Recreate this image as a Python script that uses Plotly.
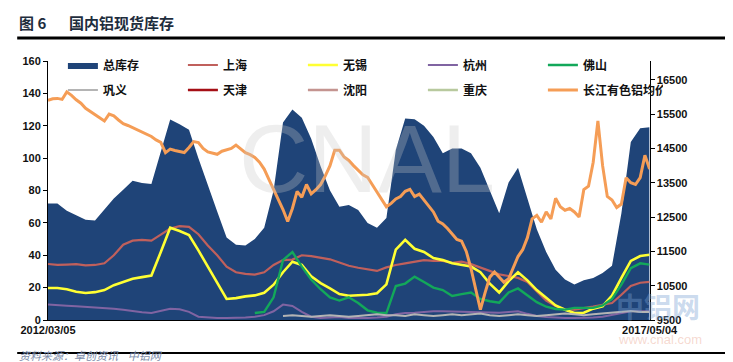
import pandas as pd
import plotly.graph_objects as go
from plotly.subplots import make_subplots

# ---------------- data ----------------
start_date = "2012-03-05"
end_date = "2017-05-04"
n_main = 65
n_price = 129

total_stock = [72, 72, 67.5, 64.5, 62, 61.5, 68, 75, 80.5, 86,
               84.6, 84, 104, 123.8, 121, 117.6, 100, 83, 67, 51,
               46.5, 46, 50, 57, 80, 122, 130, 125, 112, 95,
               80, 70, 71, 68, 60, 57, 63, 105, 124.5, 124,
               120, 113, 103, 106, 106, 103, 94, 80, 66, 85,
               94, 75, 56, 42, 31, 25, 22, 24.5, 26, 29,
               33.5, 66, 110, 118.5, 119]

shanghai = [34.6, 34, 34.2, 34.5, 33.8, 34, 35, 40, 46.5, 49,
            49.5, 49, 52.7, 56.5, 58, 57.5, 53, 46, 40, 33,
            29.5, 28.5, 28, 29.5, 34, 37, 37.3, 40, 39.5, 38.5,
            37.5, 35.5, 33.5, 32.3, 31.3, 30.3, 32.5, 34, 35, 36,
            37, 36.5, 36.5, 35.3, 36, 34.5, 32.3, 30.2, 28.2, 27.2,
            26, 23.5, 18, 12, 8.7, 6.5, 6.4, 7.2, 8.3, 9.4,
            10.5, 15.6, 21, 23, 23.5]

wuxi = [19.8, 19.8, 19, 17.5, 16.7, 17.2, 18.5, 21.5, 23.5, 25.5,
        26.5, 27.5, 42, 57, 55, 52.5, 43, 33, 23, 13,
        13.5, 14.6, 15.2, 16.8, 21.8, 29.5, 36, 34, 27, 22.8,
        19.5, 16, 15, 15.4, 15.6, 16.5, 22, 43.5, 49.5, 44,
        42, 38.3, 37, 35, 34, 33, 29.5, 22.5, 17, 24,
        29.5, 24.5, 18.5, 13.5, 9, 6.3, 4.3, 4.5, 7, 8.5,
        15, 26, 36.5, 39.5, 40.3]

hangzhou = [9.5, 9, 8.8, 8.5, 8.2, 8, 7.6, 7, 6.4, 5.5,
            4.8, 4.3, 5.5, 7, 6.6, 5, 2, 1.5, 1.3, 1.2,
            1.3, 1.5, 2, 3, 5.4, 9.5, 8.7, 5, 2, 1.3,
            1.5, 1.8, 1.3, 1.2, 1.2, 1.5, 2, 3.5, 4.3, 4.5,
            5, 5.4, 5.4, 5.2, 5.4, 5.2, 4.8, 4.5, 4.5, 5,
            5.4, 3.8, 2.5, 1.8, 1.3, 1.2, 1.2, 1.2, 1.5, 2,
            3, 4, 5.4, 5.4, 5.4]

foshan = [None] * 22 + [4.3, 5, 14, 37, 42, 33, 25, 19,
                        14, 12, 14, 10.5, 6, 4.5, 4.3, 21, 22.5, 26.8,
                        23.5, 20, 18.5, 14.8, 16, 17, 13, 11.6, 10.7, 17,
                        19.5, 15.5, 11, 8.2, 6.8, 6.4, 7.5, 7.5, 7.5, 9,
                        13, 21.8, 32, 35, 34.2]

gongyi = [None] * 25 + [2.5, 3, 2.5, 2, 2.5,
                        3, 2.5, 2, 2.5, 3, 3.5, 3, 3, 2.5, 3.5,
                        3, 2.5, 3, 3.5, 3, 3.5, 4, 3, 2.5, 3,
                        3.5, 3, 2.5, 3, 3.5, 4, 3.5, 3, 3.5, 4,
                        4.5, 5, 5.5, 5, 5]

# not readable in the picture (hidden under other series)
tianjin = [None] * n_main
shenyang = [None] * n_main
chongqing = [None] * n_main

price = [15900, 15950, 15960, 15930, 16150, 16050, 15920, 15820, 15670, 15580,
         15480, 15380, 15300, 15500, 15450, 15330, 15220, 15170, 15110, 15050,
         14970, 14920, 14850, 14750, 14680, 14380, 14480, 14440, 14420, 14380,
         14530, 14700, 14670, 14500, 14400, 14370, 14330, 14420, 14450, 14500,
         14600, 14480, 14380, 14320, 14240, 14100, 13900, 13600, 13300, 13050,
         12720, 12370, 12750, 13250, 13080, 13450, 13180, 13300, 13450, 13700,
         14000, 14450, 14450, 14250, 14150, 14000, 13850, 13730, 13660, 13450,
         13250, 13020, 12800, 12900, 13030, 13100, 13250, 13310, 13100, 13170,
         13000, 12850, 12650, 12380, 12300, 12170, 12000, 11850, 11800, 11500,
         11000, 10360, 9800, 10300, 10750, 10900, 10750, 10600, 10700, 11050,
         11350, 11550, 11900, 12450, 12550, 12350, 12650, 12450, 13050, 12800,
         12700, 12750, 12650, 12500, 13300, 13400, 14100, 15300, 14000, 13100,
         13000, 12780, 12880, 13650, 13500, 13450, 13650, 14300, 13900]

left_ticks = [0, 20, 40, 60, 80, 100, 120, 140, 160]
right_ticks = [9500, 10500, 11500, 12500, 13500, 14500, 15500, 16500]
x_tick_labels = ["2012/03/05", "2017/05/04"]

dates_main = pd.date_range(start_date, end_date, periods=n_main)
dates_price = pd.date_range(start_date, end_date, periods=n_price)

# ---------------- figure ----------------
fig = make_subplots(specs=[[{"secondary_y": True}]])

FONT = "Noto Sans CJK SC"

fig.add_trace(go.Scatter(x=dates_main, y=total_stock, name="总库存", mode="lines",
                         line=dict(width=0, color="#1F4478"), fill="tozeroy",
                         fillcolor="#1F4478", legend="legend"), secondary_y=False)

line_specs = [
    ("上海", shanghai, "#C0605C", 2.2, "legend"),
    ("无锡", wuxi, "#FFFF33", 2.6, "legend"),
    ("杭州", hangzhou, "#8064A2", 2, "legend"),
    ("佛山", foshan, "#13A85A", 2.4, "legend"),
    ("巩义", gongyi, "#B4B4B4", 2, "legend2"),
    ("天津", tianjin, "#A50F15", 2.5, "legend2"),
    ("沈阳", shenyang, "#C49490", 2.5, "legend2"),
    ("重庆", chongqing, "#B8C99E", 2.5, "legend2"),
]
for name, vals, color, w, lg in line_specs:
    fig.add_trace(go.Scatter(x=dates_main, y=vals, name=name, mode="lines",
                             line=dict(width=w, color=color), legend=lg,
                             connectgaps=False), secondary_y=False)

fig.add_trace(go.Scatter(x=dates_price, y=price, name="长江有色铝均价", mode="lines",
                         line=dict(width=3, color="#F59D56"), legend="legend2"),
              secondary_y=True)

tickfont = dict(family="Liberation Sans", size=11, color="#111111", weight="bold")

fig.update_xaxes(range=[dates_main[0], dates_main[-1]], tickvals=[dates_main[0], dates_main[-1]],
                 ticktext=x_tick_labels, showgrid=False, showline=True, linecolor="#000000",
                 linewidth=1, ticks="", tickfont=tickfont, zeroline=False)
fig.update_yaxes(range=[0, 160], tickvals=left_ticks, showgrid=False, showline=True,
                 linecolor="#000000", linewidth=1, ticks="outside", ticklen=4,
                 tickcolor="#000000", tickfont=tickfont, zeroline=False, secondary_y=False)
fig.update_yaxes(range=[9500, 17050], tickvals=right_ticks, tickformat="d", showgrid=False,
                 showline=True, linecolor="#000000", linewidth=1, ticks="outside", ticklen=4,
                 tickcolor="#000000", tickfont=tickfont, zeroline=False, secondary_y=True)

legend_font = dict(family=FONT, size=12, color="#111111", weight="bold")
legend_common = dict(orientation="h", font=legend_font, bgcolor="rgba(0,0,0,0)",
                     entrywidth=75, entrywidthmode="pixels", itemwidth=30,
                     xanchor="left", yanchor="middle", traceorder="normal")

W, H = 733, 362
L, R, T, B = 36, 53, 53, 50
pw, ph = W - L - R, H - T - B

def px_x(px):
    return (px - L) / pw

def px_y(py):
    return (H - B - py) / ph

fig.update_layout(
    width=W, height=H,
    margin=dict(l=L, r=R, t=T, b=B),
    paper_bgcolor="white", plot_bgcolor="white",
    showlegend=True,
    legend=dict(x=px_x(51), y=px_y(57), **legend_common),
    legend2=dict(x=px_x(51), y=px_y(82), **legend_common),
    font=dict(family=FONT),
)

annotations = [
    dict(text="图 6", x=px_x(5), y=px_y(14), xanchor="left", yanchor="middle",
         font=dict(family=FONT, size=15, color="#1E2D3D", weight="bold")),
    dict(text="国内铝现货库存", x=px_x(55), y=px_y(14), xanchor="left", yanchor="middle",
         font=dict(family=FONT, size=15, color="#1E2D3D", weight="bold")),
    dict(text="资料来源：卓创资讯    中铝网", x=px_x(5), y=px_y(347), xanchor="left",
         yanchor="middle", font=dict(family=FONT, size=11, color="#7A8AA8", style="italic")),
    dict(text="CNAL", x=px_x(357), y=px_y(150), xanchor="center", yanchor="middle",
         font=dict(family="Liberation Sans", size=96, color="rgba(200,200,200,0.3)")),
    dict(text="中铝网", x=px_x(650), y=px_y(298), xanchor="center", yanchor="middle",
         font=dict(family=FONT, size=28, color="rgba(120,160,210,0.4)", weight="bold")),
    dict(text="www.cnal.com", x=px_x(652), y=px_y(331), xanchor="center", yanchor="middle",
         font=dict(family="Liberation Sans", size=13, color="rgba(235,170,150,0.45)")),
]
for a in annotations:
    a.update(xref="paper", yref="paper", showarrow=False)
fig.update_layout(annotations=annotations)

fig.update_layout(shapes=[
    dict(type="line", xref="paper", yref="paper", x0=px_x(5), x1=px_x(733),
         y0=px_y(30), y1=px_y(30), line=dict(color="#000000", width=3)),
    dict(type="line", xref="paper", yref="paper", x0=px_x(5), x1=px_x(733),
         y0=px_y(345), y1=px_y(345), line=dict(color="#000000", width=2)),
])

fig.write_html("out.html")
